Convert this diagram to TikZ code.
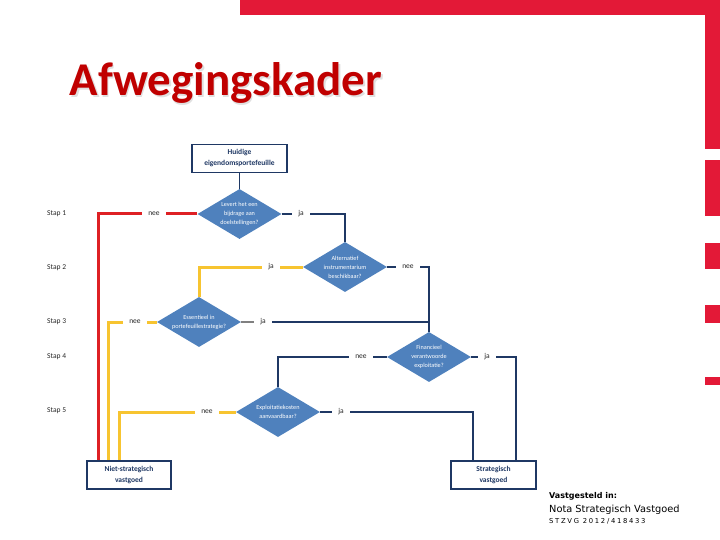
\documentclass[tikz,border=0pt]{standalone}
\usepackage{fontspec}
\setmainfont{Carlito}
\newfontfamily\notefont{DejaVu Sans}
\newfontfamily\codefont[LetterSpace=25]{DejaVu Sans}
\usetikzlibrary{shapes.geometric}

\definecolor{framered}{RGB}{227,25,55}
\definecolor{titlered}{RGB}{192,0,0}
\definecolor{navy}{RGB}{31,56,100}
\definecolor{flowblue}{RGB}{79,129,189}
\definecolor{flowred}{RGB}{222,32,36}
\definecolor{flowyellow}{RGB}{247,196,48}
\definecolor{flowgray}{RGB}{128,128,128}

\tikzset{
  flowbox/.style={draw=navy,line width=1.2pt,fill=white,text=navy,align=center,
    font=\fontsize{7.5}{11}\selectfont\bfseries,minimum height=28pt,inner sep=0pt},
  question/.style={diamond,aspect=1.6,fill=flowblue,text=white,align=center,
    font=\fontsize{6.2}{9}\selectfont,minimum width=84pt,minimum height=50pt,inner sep=0pt},
  lbl/.style={fill=white,text=black!85,font=\fontsize{7.5}{8}\selectfont,inner xsep=6pt,inner ysep=1pt},
  steplbl/.style={anchor=west,text=black!85,font=\fontsize{7.5}{8}\selectfont,inner sep=0pt},
  navyline/.style={draw=navy,line width=1.4pt},
  redline/.style={draw=flowred,line width=3pt},
  yellowline/.style={draw=flowyellow,line width=3pt},
  grayline/.style={draw=flowgray,line width=1.4pt}
}

\begin{document}
\begin{tikzpicture}[x=1pt,y=-1pt]
\useasboundingbox (0,0) rectangle (720,540);

% Frame
\fill[framered] (240,0) rectangle (720,15);
\fill[framered] (705,0) rectangle (720,149);
\foreach \ya/\yb in {160/216,243/269,305/323,377/385}
  \fill[framered] (705,\ya) rectangle (720,\yb);

% Title
\node[anchor=base west,font=\fontsize{47}{47}\selectfont\bfseries,text=black,opacity=0.12] (shadow) at (67.5,97.5) {Afwegingskader};
\node[anchor=base west,font=\fontsize{47}{47}\selectfont\bfseries,text=titlered] (title) at (66,96) {Afwegingskader};

% Start
\node[flowbox,minimum width=95pt] (portf) at (239.5,158.5) {Huidige\\eigendomsportefeuille};

% Questions
\node[question] (q1) at (239.5,214) {Levert het een\\bijdrage aan\\doelstellingen?};
\node[question] (q2) at (345,267) {Alternatief\\instrumentarium\\beschikbaar?};
\node[question] (q3) at (199,322) {Essentieel in\\portefeuillestrategie?};
\node[question] (q4) at (429,357) {Financieel\\verantwoorde\\exploitatie?};
\node[question] (q5) at (278,412) {Exploitatiekosten\\aanvaardbaar?};

% Outcomes
\node[flowbox,minimum width=84pt] (niet) at (129,475) {Niet-strategisch\\vastgoed};
\node[flowbox,minimum width=85pt] (strat) at (493.5,475) {Strategisch\\vastgoed};

% Steps
\node[steplbl] (stap1) at (47,214) {Stap 1};
\node[steplbl] (stap2) at (47,268) {Stap 2};
\node[steplbl] (stap3) at (47,322) {Stap 3};
\node[steplbl] (stap4) at (47,357) {Stap 4};
\node[steplbl] (stap5) at (47,411) {Stap 5};

% Connectors
\draw[navyline] (portf.south) -- (q1.north);
\draw[redline] (q1.west) -| ([xshift=-31pt]niet.north);
\draw[navyline] (q1.east) -| (q2.north);
\draw[yellowline] (q2.west) -| (q3.north);
\draw[navyline] (q2.east) -| (q4.north);
\draw[yellowline] (q3.west) -| ([xshift=-21pt]niet.north);
\draw[navyline] (q3.east) -- (q3.east -| q4.north);
\draw[navyline] (q4.west) -| (q5.north);
\draw[navyline] (q4.east) -| ([xshift=22.5pt]strat.north);
\draw[yellowline] (q5.west) -| ([xshift=-10pt]niet.north);
\draw[navyline] (q5.east) -| ([xshift=-20.5pt]strat.north);

% Labels
\node[lbl] (nee1) at (154,214) {nee};
\node[lbl] (ja1) at (301,214) {ja};
\node[lbl] (ja2) at (271,267) {ja};
\node[lbl] (nee2) at (408,267) {nee};
\node[lbl] (nee3) at (135,322) {nee};
\node[lbl] (ja3) at (263,322) {ja};
\node[lbl] (nee4) at (361,357) {nee};
\node[lbl] (ja4) at (487,357) {ja};
\node[lbl] (nee5) at (207,412) {nee};
\node[lbl] (ja5) at (341,412) {ja};
\draw[grayline] (q3.east) -- (ja3.west);

% Source
\node[anchor=base west,inner sep=0pt,font=\notefont\bfseries\fontsize{8}{9}\selectfont] (vast) at (549,498) {Vastgesteld in:};
\node[anchor=base west,inner sep=0pt,font=\notefont\fontsize{9.8}{10}\selectfont] (nota) at (549,512) {Nota Strategisch Vastgoed};
\node[anchor=base west,inner sep=0pt,font=\codefont\fontsize{6.8}{8}\selectfont] (stzvg) at (549,523) {STZVG 2012/418433};

\end{tikzpicture}
\end{document}
